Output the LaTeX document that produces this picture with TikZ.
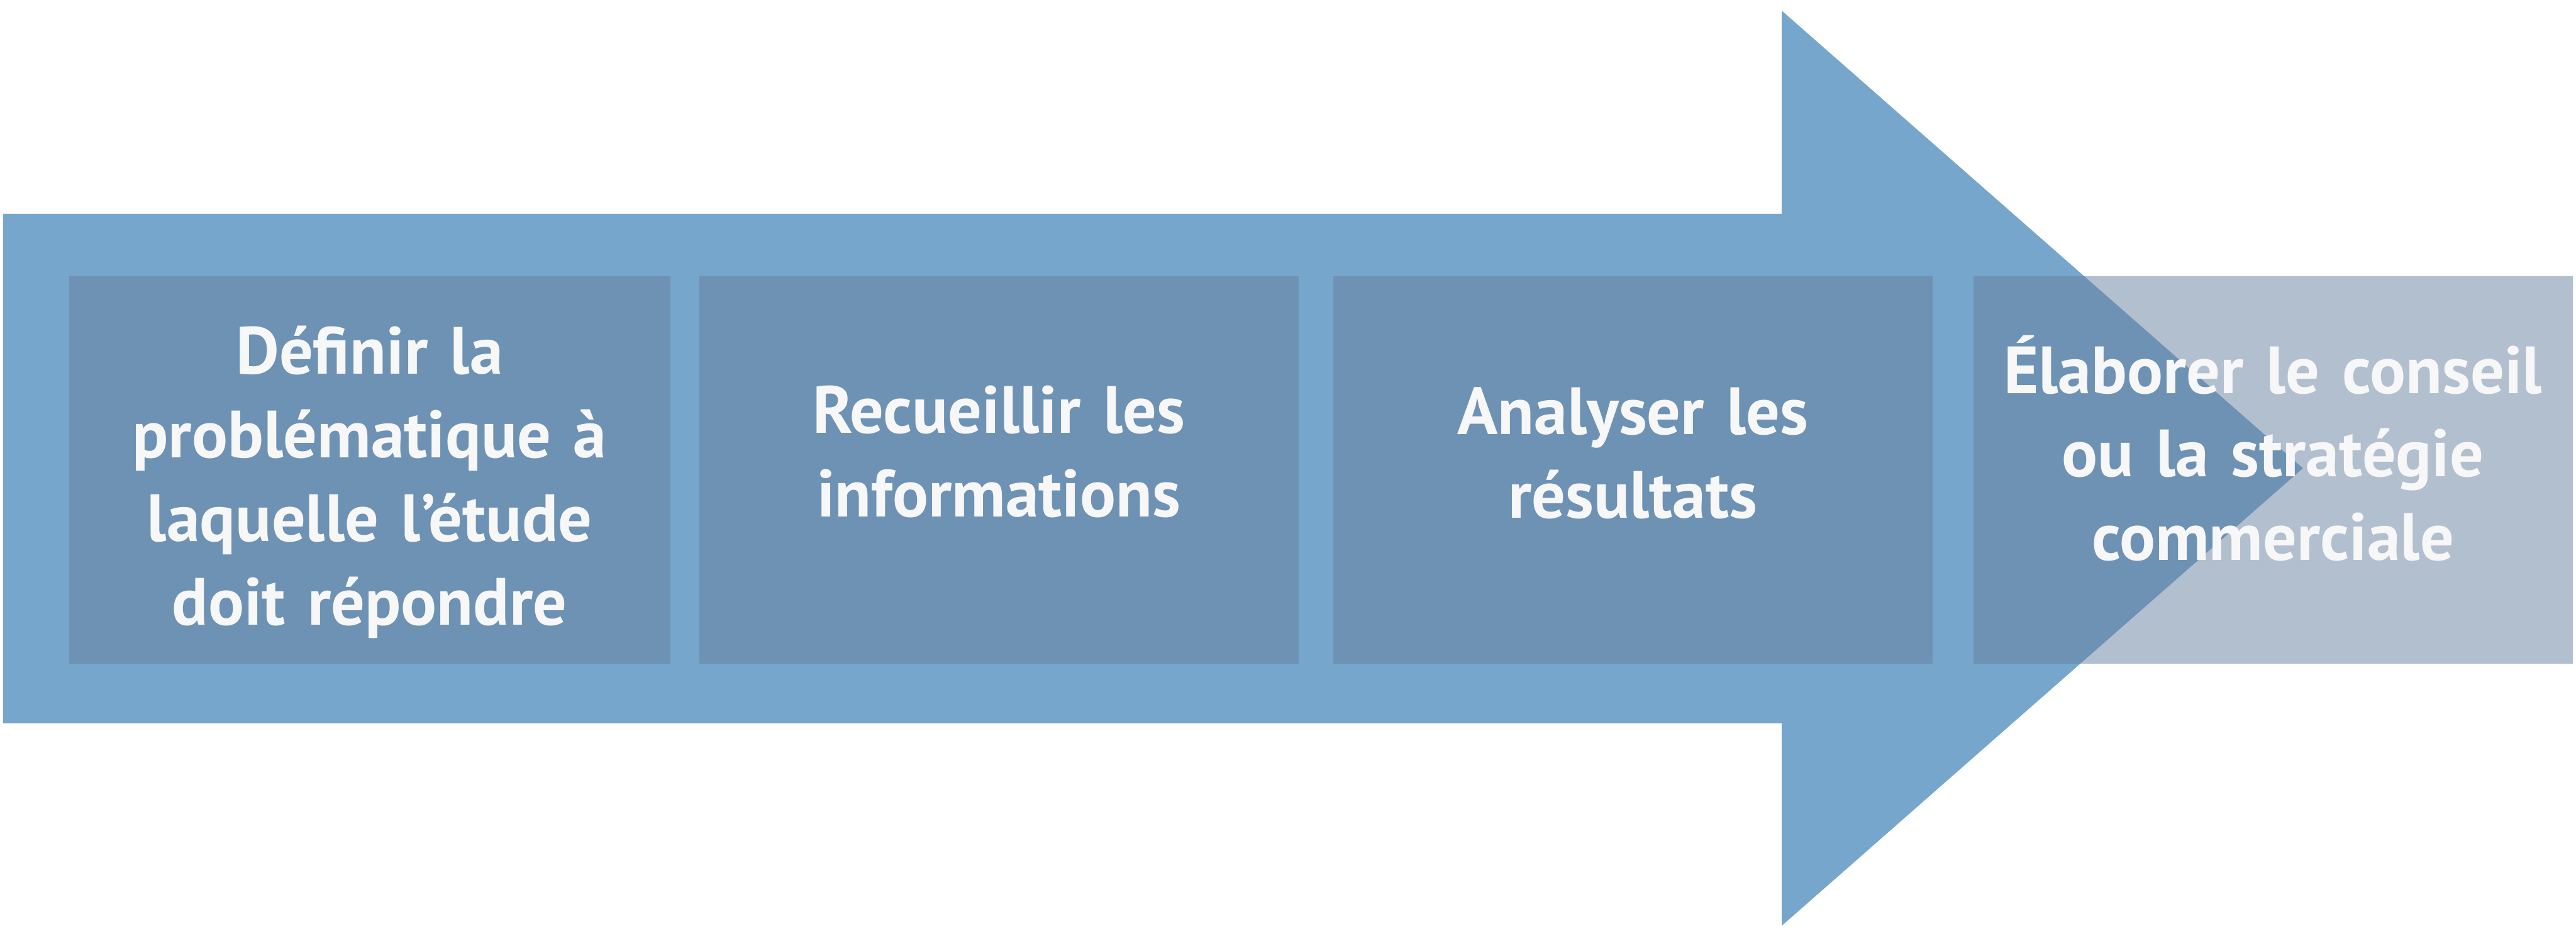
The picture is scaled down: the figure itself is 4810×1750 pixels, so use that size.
\documentclass[tikz,border=0pt]{standalone}
\usepackage{fontspec}
\setmainfont{PT Sans}
\definecolor{arrowblue}{HTML}{76A6CB}
\definecolor{boxgray}{HTML}{657F9F}
\definecolor{txtwhite}{HTML}{F7F7F7}
\tikzset{
  stepbox/.style={fill=boxgray, fill opacity=0.5, draw=none},
  steptext/.style={text=txtwhite, anchor=base, align=center, inner sep=0pt,
    text width=110mm, font=\fontsize{35.5}{44.4}\selectfont\bfseries}
}
\begin{document}
\begin{tikzpicture}[x=0.1mm, y=-0.1mm]
\useasboundingbox (0,0) rectangle (4810,1750);
\fill[arrowblue] (6,399) -- (3327,399) -- (3327,20) -- (4300,874) -- (3327,1728) -- (3327,1350) -- (6,1350) -- cycle;
\fill[stepbox] (129,516) rectangle (1252,1239);
\fill[stepbox] (1306,516) rectangle (2425,1239);
\fill[stepbox] (2489,516) rectangle (3609,1239);
\fill[stepbox] (3685,516) rectangle (4804,1239);
\node[steptext] (t1) at (690,698) {Définir la\\problématique à\\laquelle l’étude\\doit répondre};
\node[steptext] (t2) at (1865,809) {Recueillir les\\informations};
\node[steptext] (t3) at (3049,811) {Analyser les\\résultats};
\node[steptext] (t4) at (4244,734) {Élaborer le conseil\\ou la stratégie\\commerciale};
\end{tikzpicture}
\end{document}
